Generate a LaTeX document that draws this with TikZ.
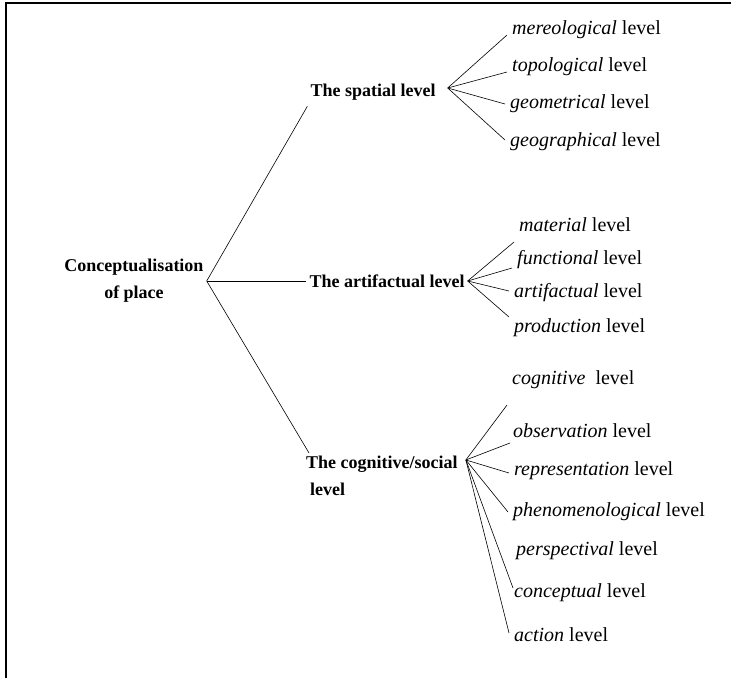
\documentclass[tikz,border=0pt]{standalone}
\usepackage{fontspec}
\setmainfont{Liberation Serif}
\usepackage{tikz}
\usetikzlibrary{positioning}

\begin{document}
\begin{tikzpicture}[x=1pt, y=-1pt,
    group/.style={font=\fontsize{18}{27}\selectfont\bfseries, inner sep=3pt},
    leaf/.style={anchor=west, font=\fontsize{20}{24}\selectfont, inner sep=5pt},
    link/.style={line width=0.6pt}
]
\useasboundingbox (0,0) rectangle (731,678);

% frame, only top and left edges
\draw[line width=2pt] (731,2.5) -- (5.5,2.5) -- (5.5,678);

% root
\node[group, align=center] (root) at (134,281) {Conceptualisation\\of place};

% second level
\node[group] (spatial) at (373,92) {The spatial level};
\node[group] (artifact) at (387,281) {The artifactual level};
\node[group, align=left, anchor=west] (cognitive) at (303,476) {The cognitive/social\\\hspace{4pt}level};

\draw[link] (root.east) -- ([yshift=-3pt]spatial.south west);
\draw[link] (root.east) -- (artifact.west);
\draw[link] (root.east) -- ([xshift=6pt]cognitive.north west);

% spatial levels
\node[leaf] (merel) at (507,30) {\textit{mereological} level};
\node[leaf] (topo) at (507,67) {\textit{topological} level};
\node[leaf] (geom) at (505,104) {\textit{geometrical} level};
\node[leaf] (geog) at (505,142) {\textit{geographical} level};

\coordinate (spatialfork) at ([xshift=9pt,yshift=4pt]spatial.east);
\draw[link] (spatialfork) -- ([yshift=-5pt]merel.west);
\draw[link] (spatialfork) -- ([yshift=-5pt]topo.west);
\draw[link] (spatialfork) -- (geom.west);
\draw[link] (spatialfork) -- ([yshift=2pt]geog.west);

% artifactual levels
\node[leaf] (material) at (514,225) {\textit{material} level};
\node[leaf] (functional) at (512,260) {\textit{functional} level};
\node[leaf] (artifactual) at (509,293) {\textit{artifactual} level};
\node[leaf] (production) at (509,328) {\textit{production} level};

\draw[link] (artifact.east) -- ([yshift=-17pt]material.west);
\draw[link] (artifact.east) -- ([yshift=-8pt]functional.west);
\draw[link] (artifact.east) -- ([yshift=2pt]artifactual.west);
\draw[link] (artifact.east) -- ([yshift=11pt]production.west);

% cognitive/social levels
\node[leaf] (cogn) at (507,380) {\textit{cognitive}\ \ level};
\node[leaf] (observ) at (508,431) {\textit{observation} level};
\node[leaf] (repres) at (509,471) {\textit{representation} level};
\node[leaf] (phenom) at (508,512) {\textit{phenomenological} level};
\node[leaf] (persp) at (511,551) {\textit{perspectival} level};
\node[leaf] (concept) at (509,593) {\textit{conceptual} level};
\node[leaf] (action) at (509,635) {\textit{action} level};

\coordinate (cognfork) at ([xshift=5pt,yshift=-7pt]cognitive.north east);
\draw[link] (cognfork) -- ([yshift=-25pt]cogn.west);
\draw[link] (cognfork) -- ([xshift=2pt,yshift=-12pt]observ.west);
\draw[link] (cognfork) -- ([yshift=-2pt]repres.west);
\draw[link] (cognfork) -- (phenom.west);
\draw[link] (cognfork) -- ([xshift=4pt,yshift=5pt]concept.west);
\draw[link] (cognfork) -- ([yshift=2pt]action.west);

\end{tikzpicture}
\end{document}
